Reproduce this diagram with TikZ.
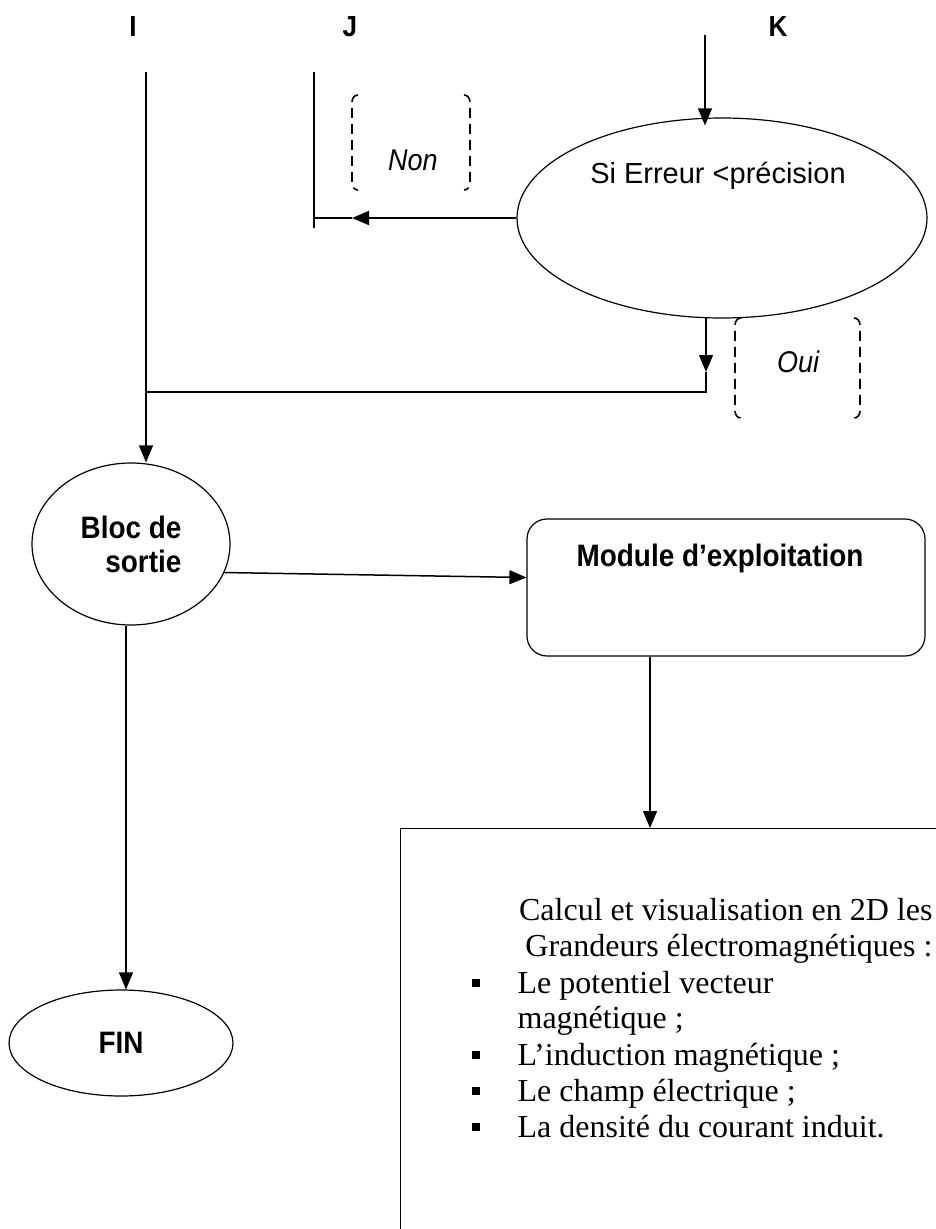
\documentclass[tikz,border=0pt]{standalone}
\usepackage{fontspec}
\setmainfont{Liberation Serif}
\setsansfont{Liberation Sans}
\newfontfamily\narrowsans[FakeStretch=0.9]{Liberation Sans}
\usetikzlibrary{arrows.meta,shapes.geometric}
\begin{document}
\begin{tikzpicture}[x=1pt,y=-1pt,line width=1.2pt,
  tip/.style={-{Triangle[length=17pt,width=14pt]}},
  lbl/.style={font=\narrowsans\bfseries\fontsize{29}{32}\selectfont},
  bsans/.style={font=\narrowsans\bfseries\fontsize{31}{34}\selectfont},
  rsans/.style={font=\sffamily\fontsize{29}{34}\selectfont},
  isans/.style={font=\narrowsans\itshape\fontsize{30}{34}\selectfont},
  serif/.style={font=\rmfamily\fontsize{32}{36}\selectfont,inner sep=0pt},
  bullet/.style={fill,minimum size=8pt,inner sep=0pt},
  brk/.style={dash pattern=on 10pt off 6pt,line width=1.6pt}]
\useasboundingbox (0,0) rectangle (936,1229);
\clip (0,0) rectangle (936,1229);

% top labels
\node[lbl] (I) at (133,27) {I};
\node[lbl] (J) at (350,27) {J};
\node[lbl] (K) at (778,27) {K};

% decision ellipse
\node[draw,ellipse,minimum width=410pt,minimum height=200pt,inner sep=0pt] (test) at (722,218) {};
\node[rsans,anchor=base] (testtxt) at (718,183) {Si Erreur <précision};

% Non / Oui brackets
\node[isans] (non) at (413,160) {Non};
\draw[brk] (358,95) to[out=180,in=90] (352,102) -- (352,183) to[out=-90,in=180] (358,190);
\draw[brk] (464,95) to[out=0,in=90] (470,102) -- (470,183) to[out=-90,in=0] (464,190);
\node[isans] (oui) at (798,362) {Oui};
\draw[brk] (741,318) to[out=180,in=90] (735,325) -- (735,411) to[out=-90,in=180] (741,418);
\draw[brk] (854,318) to[out=0,in=90] (860,325) -- (860,411) to[out=-90,in=0] (854,418);

% output block, module, end
\node[draw,ellipse,minimum width=198pt,minimum height=162pt,inner sep=0pt,bsans,align=right] (bloc) at (131,544) {Bloc de\\sortie};
\node[draw,rounded corners=20pt,minimum width=398pt,minimum height=137pt,inner sep=0pt] (module) at (726,587.5) {};
\node[bsans] (modtxt) at (720,558) {Module d’exploitation};
\node[draw,ellipse,minimum width=224pt,minimum height=106pt,inner sep=0pt,bsans] (fin) at (121,1043) {FIN};
\node[draw,minimum width=700pt,minimum height=600pt,inner sep=0pt,anchor=north west] (big) at (400,828) {};

% text of the big box
\node[serif,anchor=base east] (t1) at (933,920) {Calcul et visualisation en 2D les};
\node[serif,anchor=base east] (t2) at (933,956) {Grandeurs électromagnétiques :};
\node[serif,anchor=base west] (t3) at (517,993) {Le potentiel vecteur};
\node[serif,anchor=base west] (t4) at (517,1028) {magnétique ;};
\node[serif,anchor=base west] (t5) at (517,1065) {L’induction magnétique ;};
\node[serif,anchor=base west] (t6) at (517,1101) {Le champ électrique ;};
\node[serif,anchor=base west] (t7) at (517,1137) {La densité du courant induit.};
\node[bullet] (b3) at (476,983) {};
\node[bullet] (b5) at (476,1055) {};
\node[bullet] (b6) at (476,1091) {};
\node[bullet] (b7) at (476,1127) {};

% connectors
\coordinate (Itop) at (146,72);
\coordinate (junc) at (146,392);
\coordinate (Jtop) at (314,72);
\coordinate (Jbot) at (314,228);
\coordinate (Jarr) at (352,220);
\coordinate (Ktop) at (705,35);
\coordinate (ouitop) at (706,317);
\coordinate (ouiarr) at (706,372);
\coordinate (ouibot) at (706,392);

\draw[tip] (Itop) -- (junc) -- (Itop |- bloc.north);
\draw (Jtop) -- (Jbot);
\draw[tip,line width=1.8pt] (test.west) -- (test.west -| Jarr);
\draw[line width=1.8pt] (test.west -| Jarr) -- (test.west -| Jtop);
\draw[tip] (Ktop) -- ([yshift=-8pt]Ktop |- test.north);
\draw[tip] (ouitop) -- (ouiarr);
\draw (ouiarr) -- (ouibot) -- (junc);
\draw[tip,line width=1.5pt] (bloc.-17) -- ([yshift=10pt]module.west);
\draw[tip] ([xshift=-76pt]module.south) -- ([xshift=-76pt]module.south |- big.north);
\draw[tip] ([xshift=-5pt]bloc.south) -- ([xshift=-5pt]bloc.south |- fin.north);
\end{tikzpicture}
\end{document}
